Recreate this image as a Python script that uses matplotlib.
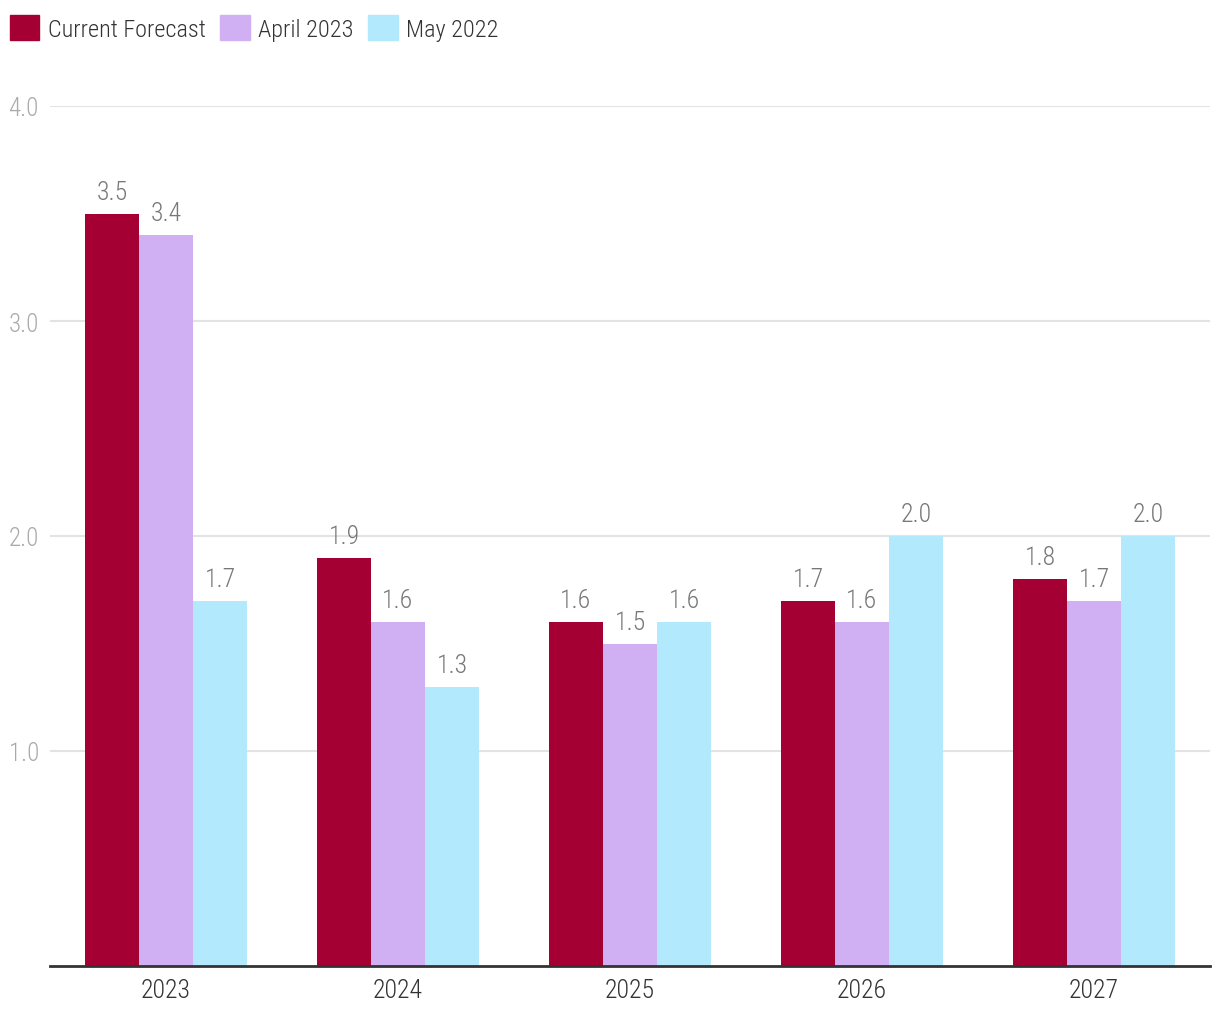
import matplotlib
matplotlib.use("Agg")
import matplotlib.pyplot as plt
from matplotlib.patches import Patch
import numpy as np

plt.rcParams['font.family'] = ['Roboto Condensed', 'Liberation Sans Narrow', 'DejaVu Sans']
plt.rcParams['font.weight'] = 'light'

years = ["2023", "2024", "2025", "2026", "2027"]
series_names = ["Current Forecast", "April 2023", "May 2022"]
current = [3.5, 1.9, 1.6, 1.7, 1.8]
april_2023 = [3.4, 1.6, 1.5, 1.6, 1.7]
may_2022 = [1.7, 1.3, 1.6, 2.0, 2.0]
colors = ["#A50034", "#D0B0F2", "#B2E9FD"]

fig = plt.figure(figsize=(12.2, 10.2), dpi=100)
ax = fig.add_axes([50/1220, 53/1020, 1160/1220, 860/1020])

x = np.arange(len(years))
w = 0.233
for i, vals in enumerate([current, april_2023, may_2022]):
    pos = x + (i - 1) * w
    ax.bar(pos, vals, width=w, color=colors[i], zorder=3)
    for xp, v in zip(pos, vals):
        ax.annotate(f"{v:.1f}", (xp, v), xytext=(0, 7), textcoords="offset points",
                    ha="center", va="bottom", fontsize=18.5, color="#777777")

ax.set_xlim(-0.5, len(years) - 0.5)
ax.set_ylim(0, 4)
ax.set_yticks([1, 2, 3, 4])
ax.set_yticklabels(["1.0", "2.0", "3.0", "4.0"])
ax.set_xticks(x)
ax.set_xticklabels(years)
ax.grid(axis="y", color="#e3e3e3", linewidth=1.5, zorder=0)
for s in ["top", "right", "left"]:
    ax.spines[s].set_visible(False)
ax.spines["bottom"].set_color("#333333")
ax.spines["bottom"].set_linewidth(2)
ax.spines["bottom"].set_zorder(4)
ax.tick_params(axis="y", length=0, labelsize=18, labelcolor="#aaaaaa", pad=8)
ax.tick_params(axis="x", length=0, labelsize=18.5, labelcolor="#333333", pad=9)

handles = [Patch(color=c) for c in colors]
fig.legend(handles, series_names, loc="upper left",
           bbox_to_anchor=(10/1220, 1 - 16/1020),
           ncol=3, frameon=False, fontsize=17.5, handlelength=1.2, handleheight=1.2,
           handletextpad=0.36, columnspacing=0.6, labelcolor="#333333",
           borderpad=0, borderaxespad=0)

fig.savefig("out.png", dpi=100)
